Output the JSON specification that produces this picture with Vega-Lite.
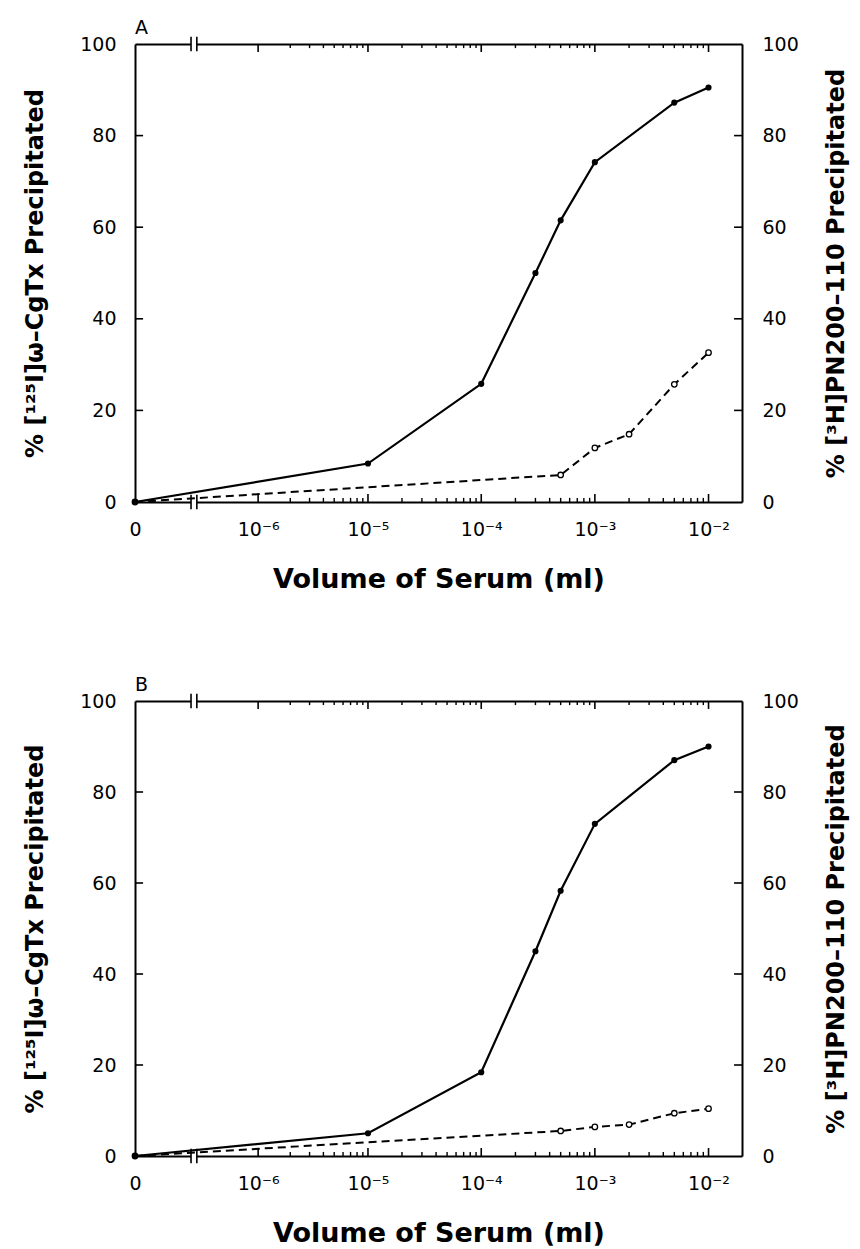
{
  "$schema": "https://vega.github.io/schema/vega-lite/v6.json",
  "background": "white",
  "padding": {"left": 23, "top": 19, "right": 8, "bottom": 4},
  "config": {
    "view": {"stroke": null},
    "title": {"font": "DejaVu Sans", "fontSize": 19, "fontWeight": "normal", "anchor": "start", "color": "black", "frame": "group"}
  },
  "datasets": {
    "A": [
      {"series": "CgTx", "volume": 0, "percent": 0},
      {"series": "CgTx", "volume": 0.00001, "percent": 8.4},
      {"series": "CgTx", "volume": 0.0001, "percent": 25.8},
      {"series": "CgTx", "volume": 0.0003, "percent": 50},
      {"series": "CgTx", "volume": 0.0005, "percent": 61.5},
      {"series": "CgTx", "volume": 0.001, "percent": 74.2},
      {"series": "CgTx", "volume": 0.005, "percent": 87.2},
      {"series": "CgTx", "volume": 0.01, "percent": 90.5},
      {"series": "PN200", "volume": 0, "percent": 0},
      {"series": "PN200", "volume": 0.0005, "percent": 5.9},
      {"series": "PN200", "volume": 0.001, "percent": 11.8},
      {"series": "PN200", "volume": 0.002, "percent": 14.8},
      {"series": "PN200", "volume": 0.005, "percent": 25.7},
      {"series": "PN200", "volume": 0.01, "percent": 32.6}
    ],
    "B": [
      {"series": "CgTx", "volume": 0, "percent": 0},
      {"series": "CgTx", "volume": 0.00001, "percent": 5},
      {"series": "CgTx", "volume": 0.0001, "percent": 18.4},
      {"series": "CgTx", "volume": 0.0003, "percent": 45},
      {"series": "CgTx", "volume": 0.0005, "percent": 58.3},
      {"series": "CgTx", "volume": 0.001, "percent": 73},
      {"series": "CgTx", "volume": 0.005, "percent": 87},
      {"series": "CgTx", "volume": 0.01, "percent": 90},
      {"series": "PN200", "volume": 0, "percent": 0},
      {"series": "PN200", "volume": 0.0005, "percent": 5.5},
      {"series": "PN200", "volume": 0.001, "percent": 6.4},
      {"series": "PN200", "volume": 0.002, "percent": 6.9},
      {"series": "PN200", "volume": 0.005, "percent": 9.4},
      {"series": "PN200", "volume": 0.01, "percent": 10.4}
    ],
    "xticks": [
      {"v": 0.000001, "kind": "major"}, {"v": 0.00001, "kind": "major"}, {"v": 0.0001, "kind": "major"}, {"v": 0.001, "kind": "major"}, {"v": 0.01, "kind": "major"},
      {"v": 0.000002, "kind": "minor"}, {"v": 0.000003, "kind": "minor"}, {"v": 0.000004, "kind": "minor"}, {"v": 0.000005, "kind": "minor"}, {"v": 0.000006, "kind": "minor"}, {"v": 0.000007, "kind": "minor"}, {"v": 0.000008, "kind": "minor"}, {"v": 0.000009, "kind": "minor"},
      {"v": 0.00002, "kind": "minor"}, {"v": 0.00003, "kind": "minor"}, {"v": 0.00004, "kind": "minor"}, {"v": 0.00005, "kind": "minor"}, {"v": 0.00006, "kind": "minor"}, {"v": 0.00007, "kind": "minor"}, {"v": 0.00008, "kind": "minor"}, {"v": 0.00009, "kind": "minor"},
      {"v": 0.0002, "kind": "minor"}, {"v": 0.0003, "kind": "minor"}, {"v": 0.0004, "kind": "minor"}, {"v": 0.0005, "kind": "minor"}, {"v": 0.0006, "kind": "minor"}, {"v": 0.0007, "kind": "minor"}, {"v": 0.0008, "kind": "minor"}, {"v": 0.0009, "kind": "minor"},
      {"v": 0.002, "kind": "minor"}, {"v": 0.003, "kind": "minor"}, {"v": 0.004, "kind": "minor"}, {"v": 0.005, "kind": "minor"}, {"v": 0.006, "kind": "minor"}, {"v": 0.007, "kind": "minor"}, {"v": 0.008, "kind": "minor"}, {"v": 0.009, "kind": "minor"}
    ],
    "yticks": [{"v": 20}, {"v": 40}, {"v": 60}, {"v": 80}]
  },
  "spacing": 84,
  "vconcat": [
    {
      "title": {"text": "A", "offset": -3},
      "width": 607,
      "height": 458,
      "data": {"name": "A"},
      "resolve": {"axis": {"x": "independent", "y": "independent"}},
      "layer": [
        {"data": {"values": [{}]}, "mark": {"type": "rect", "fill": "white"},
         "encoding": {"x": {"datum": 1.9e-7, "type": "quantitative", "scale": {"type": "symlog", "constant": 9e-8, "domain": [0, 0.0197], "nice": false, "zero": false}, "axis": null}, "x2": {"datum": 2.25e-7},
                      "y": {"datum": -0.6, "type": "quantitative", "scale": {"domain": [0, 100], "nice": false}, "axis": null}, "y2": {"datum": 0.6}}},
        {"data": {"values": [{}]}, "mark": {"type": "rect", "fill": "white"},
         "encoding": {"x": {"datum": 1.9e-7, "type": "quantitative", "axis": null}, "x2": {"datum": 2.25e-7},
                      "y": {"datum": 99.4, "type": "quantitative", "axis": null}, "y2": {"datum": 100.6}}},
        {"data": {"values": [{}]}, "mark": {"type": "rule", "color": "black", "strokeWidth": 1.6},
         "encoding": {"x": {"datum": 1.9e-7, "type": "quantitative", "axis": null}, "y": {"datum": -1.6, "type": "quantitative", "axis": null}, "y2": {"datum": 1.6}}},
        {"data": {"values": [{}]}, "mark": {"type": "rule", "color": "black", "strokeWidth": 1.6},
         "encoding": {"x": {"datum": 2.25e-7, "type": "quantitative", "axis": null}, "y": {"datum": -1.6, "type": "quantitative", "axis": null}, "y2": {"datum": 1.6}}},
        {"data": {"values": [{}]}, "mark": {"type": "rule", "color": "black", "strokeWidth": 1.6},
         "encoding": {"x": {"datum": 1.9e-7, "type": "quantitative", "axis": null}, "y": {"datum": 98.4, "type": "quantitative", "axis": null}, "y2": {"datum": 101.6}}},
        {"data": {"values": [{}]}, "mark": {"type": "rule", "color": "black", "strokeWidth": 1.6},
         "encoding": {"x": {"datum": 2.25e-7, "type": "quantitative", "axis": null}, "y": {"datum": 98.4, "type": "quantitative", "axis": null}, "y2": {"datum": 101.6}}},
        {"data": {"name": "xticks"}, "transform": [{"filter": "datum.kind == 'major'"}],
         "mark": {"type": "rule", "color": "black", "strokeWidth": 1.6},
         "encoding": {"x": {"field": "v", "type": "quantitative", "axis": null}, "y": {"datum": 0, "type": "quantitative", "axis": null}, "y2": {"datum": 1.75}}},
        {"data": {"name": "xticks"}, "transform": [{"filter": "datum.kind == 'minor'"}],
         "mark": {"type": "rule", "color": "black", "strokeWidth": 1.4},
         "encoding": {"x": {"field": "v", "type": "quantitative", "axis": null}, "y": {"datum": 0, "type": "quantitative", "axis": null}, "y2": {"datum": 0.9}}},
        {"data": {"name": "xticks"}, "transform": [{"filter": "datum.kind == 'major'"}],
         "mark": {"type": "rule", "color": "black", "strokeWidth": 1.6},
         "encoding": {"x": {"field": "v", "type": "quantitative", "axis": null}, "y": {"datum": 100, "type": "quantitative", "axis": null}, "y2": {"datum": 98.25}}},
        {"data": {"name": "xticks"}, "transform": [{"filter": "datum.kind == 'minor'"}],
         "mark": {"type": "rule", "color": "black", "strokeWidth": 1.4},
         "encoding": {"x": {"field": "v", "type": "quantitative", "axis": null}, "y": {"datum": 100, "type": "quantitative", "axis": null}, "y2": {"datum": 99.1}}},
        {"data": {"name": "yticks"},
         "mark": {"type": "rule", "color": "black", "strokeWidth": 1.6},
         "encoding": {"y": {"field": "v", "type": "quantitative", "axis": null}, "x": {"datum": 0, "type": "quantitative", "axis": null}, "x2": {"datum": 1.6e-8}}},
        {"data": {"name": "yticks"},
         "mark": {"type": "rule", "color": "black", "strokeWidth": 1.6},
         "encoding": {"y": {"field": "v", "type": "quantitative", "axis": null}, "x": {"datum": 0.0197, "type": "quantitative", "axis": null}, "x2": {"datum": 0.01677}}},
        {"transform": [{"filter": "datum.series == 'CgTx'"}],
         "mark": {"type": "line", "color": "black", "strokeWidth": 2.2},
         "encoding": {
           "x": {"field": "volume", "type": "quantitative", "scale": {"type": "symlog", "constant": 9e-8, "domain": [0, 0.0197], "nice": false, "zero": false},
                 "axis": {"orient": "bottom", "values": [0, 0.000001, 0.00001, 0.0001, 0.001, 0.01], "grid": false, "ticks": false, "domain": true, "domainColor": "black", "domainWidth": 2, "labelFont": "DejaVu Sans", "labelFontSize": 19, "labelColor": "black", "labelFlush": false, "labelOverlap": false, "labelPadding": 18, "labelExpr": "datum.value == 0 ? '0' : datum.value < 5e-6 ? '10⁻⁶' : datum.value < 5e-5 ? '10⁻⁵' : datum.value < 5e-4 ? '10⁻⁴' : datum.value < 5e-3 ? '10⁻³' : '10⁻²'", "title": "Volume of Serum (ml)", "titleFont": "DejaVu Sans", "titleFontSize": 27, "titleFontWeight": "bold", "titleColor": "black", "titlePadding": 27}},
           "y": {"field": "percent", "type": "quantitative", "scale": {"domain": [0, 100], "nice": false},
                 "axis": {"orient": "left", "values": [0, 20, 40, 60, 80, 100], "grid": false, "ticks": false, "domain": true, "domainColor": "black", "domainWidth": 2, "labelFont": "DejaVu Sans", "labelFontSize": 19, "labelColor": "black", "labelFlush": false, "labelOverlap": false, "labelPadding": 19, "title": "% [¹²⁵I]ω–CgTx Precipitated", "titleFont": "DejaVu Sans", "titleFontSize": 24, "titleFontWeight": "bold", "titleColor": "black", "titlePadding": 32}}
         }},
        {"transform": [{"filter": "datum.series == 'PN200'"}],
         "mark": {"type": "line", "color": "black", "strokeWidth": 2, "strokeDash": [8, 5]},
         "encoding": {
           "x": {"field": "volume", "type": "quantitative",
                 "axis": {"orient": "top", "values": [0, 0.01], "grid": false, "ticks": false, "labels": false, "domain": true, "domainColor": "black", "domainWidth": 2, "title": null}},
           "y": {"field": "percent", "type": "quantitative",
                 "axis": {"orient": "right", "values": [0, 20, 40, 60, 80, 100], "grid": false, "ticks": false, "domain": true, "domainColor": "black", "domainWidth": 2, "labelFont": "DejaVu Sans", "labelFontSize": 19, "labelColor": "black", "labelFlush": false, "labelOverlap": false, "labelPadding": 20, "title": "% [³H]PN200–110 Precipitated", "titleFont": "DejaVu Sans", "titleFontSize": 24, "titleFontWeight": "bold", "titleColor": "black", "titlePadding": 26, "titleAngle": 270, "titleBaseline": "top"}}
         }},
        {"transform": [{"filter": "datum.series == 'PN200'"}],
         "mark": {"type": "point", "shape": "circle", "filled": false, "fill": "white", "fillOpacity": 1, "stroke": "black", "strokeWidth": 1.3, "size": 30, "opacity": 1},
         "encoding": {
           "x": {"field": "volume", "type": "quantitative", "axis": null},
           "y": {"field": "percent", "type": "quantitative", "axis": null}
         }},
        {"transform": [{"filter": "datum.series == 'CgTx'"}],
         "mark": {"type": "circle", "color": "black", "size": 38, "opacity": 1},
         "encoding": {
           "x": {"field": "volume", "type": "quantitative", "axis": null},
           "y": {"field": "percent", "type": "quantitative", "axis": null}
         }}
      ]
    },
    {
      "title": {"text": "B", "offset": -3},
      "width": 607,
      "height": 455,
      "data": {"name": "B"},
      "resolve": {"axis": {"x": "independent", "y": "independent"}},
      "layer": [
        {"data": {"values": [{}]}, "mark": {"type": "rect", "fill": "white"},
         "encoding": {"x": {"datum": 1.9e-7, "type": "quantitative", "scale": {"type": "symlog", "constant": 9e-8, "domain": [0, 0.0197], "nice": false, "zero": false}, "axis": null}, "x2": {"datum": 2.25e-7},
                      "y": {"datum": -0.6, "type": "quantitative", "scale": {"domain": [0, 100], "nice": false}, "axis": null}, "y2": {"datum": 0.6}}},
        {"data": {"values": [{}]}, "mark": {"type": "rect", "fill": "white"},
         "encoding": {"x": {"datum": 1.9e-7, "type": "quantitative", "axis": null}, "x2": {"datum": 2.25e-7},
                      "y": {"datum": 99.4, "type": "quantitative", "axis": null}, "y2": {"datum": 100.6}}},
        {"data": {"values": [{}]}, "mark": {"type": "rule", "color": "black", "strokeWidth": 1.6},
         "encoding": {"x": {"datum": 1.9e-7, "type": "quantitative", "axis": null}, "y": {"datum": -1.6, "type": "quantitative", "axis": null}, "y2": {"datum": 1.6}}},
        {"data": {"values": [{}]}, "mark": {"type": "rule", "color": "black", "strokeWidth": 1.6},
         "encoding": {"x": {"datum": 2.25e-7, "type": "quantitative", "axis": null}, "y": {"datum": -1.6, "type": "quantitative", "axis": null}, "y2": {"datum": 1.6}}},
        {"data": {"values": [{}]}, "mark": {"type": "rule", "color": "black", "strokeWidth": 1.6},
         "encoding": {"x": {"datum": 1.9e-7, "type": "quantitative", "axis": null}, "y": {"datum": 98.4, "type": "quantitative", "axis": null}, "y2": {"datum": 101.6}}},
        {"data": {"values": [{}]}, "mark": {"type": "rule", "color": "black", "strokeWidth": 1.6},
         "encoding": {"x": {"datum": 2.25e-7, "type": "quantitative", "axis": null}, "y": {"datum": 98.4, "type": "quantitative", "axis": null}, "y2": {"datum": 101.6}}},
        {"data": {"name": "xticks"}, "transform": [{"filter": "datum.kind == 'major'"}],
         "mark": {"type": "rule", "color": "black", "strokeWidth": 1.6},
         "encoding": {"x": {"field": "v", "type": "quantitative", "axis": null}, "y": {"datum": 0, "type": "quantitative", "axis": null}, "y2": {"datum": 1.75}}},
        {"data": {"name": "xticks"}, "transform": [{"filter": "datum.kind == 'minor'"}],
         "mark": {"type": "rule", "color": "black", "strokeWidth": 1.4},
         "encoding": {"x": {"field": "v", "type": "quantitative", "axis": null}, "y": {"datum": 0, "type": "quantitative", "axis": null}, "y2": {"datum": 0.9}}},
        {"data": {"name": "xticks"}, "transform": [{"filter": "datum.kind == 'major'"}],
         "mark": {"type": "rule", "color": "black", "strokeWidth": 1.6},
         "encoding": {"x": {"field": "v", "type": "quantitative", "axis": null}, "y": {"datum": 100, "type": "quantitative", "axis": null}, "y2": {"datum": 98.25}}},
        {"data": {"name": "xticks"}, "transform": [{"filter": "datum.kind == 'minor'"}],
         "mark": {"type": "rule", "color": "black", "strokeWidth": 1.4},
         "encoding": {"x": {"field": "v", "type": "quantitative", "axis": null}, "y": {"datum": 100, "type": "quantitative", "axis": null}, "y2": {"datum": 99.1}}},
        {"data": {"name": "yticks"},
         "mark": {"type": "rule", "color": "black", "strokeWidth": 1.6},
         "encoding": {"y": {"field": "v", "type": "quantitative", "axis": null}, "x": {"datum": 0, "type": "quantitative", "axis": null}, "x2": {"datum": 1.6e-8}}},
        {"data": {"name": "yticks"},
         "mark": {"type": "rule", "color": "black", "strokeWidth": 1.6},
         "encoding": {"y": {"field": "v", "type": "quantitative", "axis": null}, "x": {"datum": 0.0197, "type": "quantitative", "axis": null}, "x2": {"datum": 0.01677}}},
        {"transform": [{"filter": "datum.series == 'CgTx'"}],
         "mark": {"type": "line", "color": "black", "strokeWidth": 2.2},
         "encoding": {
           "x": {"field": "volume", "type": "quantitative", "scale": {"type": "symlog", "constant": 9e-8, "domain": [0, 0.0197], "nice": false, "zero": false},
                 "axis": {"orient": "bottom", "values": [0, 0.000001, 0.00001, 0.0001, 0.001, 0.01], "grid": false, "ticks": false, "domain": true, "domainColor": "black", "domainWidth": 2, "labelFont": "DejaVu Sans", "labelFontSize": 19, "labelColor": "black", "labelFlush": false, "labelOverlap": false, "labelPadding": 18, "labelExpr": "datum.value == 0 ? '0' : datum.value < 5e-6 ? '10⁻⁶' : datum.value < 5e-5 ? '10⁻⁵' : datum.value < 5e-4 ? '10⁻⁴' : datum.value < 5e-3 ? '10⁻³' : '10⁻²'", "title": "Volume of Serum (ml)", "titleFont": "DejaVu Sans", "titleFontSize": 27, "titleFontWeight": "bold", "titleColor": "black", "titlePadding": 27}},
           "y": {"field": "percent", "type": "quantitative", "scale": {"domain": [0, 100], "nice": false},
                 "axis": {"orient": "left", "values": [0, 20, 40, 60, 80, 100], "grid": false, "ticks": false, "domain": true, "domainColor": "black", "domainWidth": 2, "labelFont": "DejaVu Sans", "labelFontSize": 19, "labelColor": "black", "labelFlush": false, "labelOverlap": false, "labelPadding": 19, "title": "% [¹²⁵I]ω–CgTx Precipitated", "titleFont": "DejaVu Sans", "titleFontSize": 24, "titleFontWeight": "bold", "titleColor": "black", "titlePadding": 32}}
         }},
        {"transform": [{"filter": "datum.series == 'PN200'"}],
         "mark": {"type": "line", "color": "black", "strokeWidth": 2, "strokeDash": [8, 5]},
         "encoding": {
           "x": {"field": "volume", "type": "quantitative",
                 "axis": {"orient": "top", "values": [0, 0.01], "grid": false, "ticks": false, "labels": false, "domain": true, "domainColor": "black", "domainWidth": 2, "title": null}},
           "y": {"field": "percent", "type": "quantitative",
                 "axis": {"orient": "right", "values": [0, 20, 40, 60, 80, 100], "grid": false, "ticks": false, "domain": true, "domainColor": "black", "domainWidth": 2, "labelFont": "DejaVu Sans", "labelFontSize": 19, "labelColor": "black", "labelFlush": false, "labelOverlap": false, "labelPadding": 20, "title": "% [³H]PN200–110 Precipitated", "titleFont": "DejaVu Sans", "titleFontSize": 24, "titleFontWeight": "bold", "titleColor": "black", "titlePadding": 26, "titleAngle": 270, "titleBaseline": "top"}}
         }},
        {"transform": [{"filter": "datum.series == 'PN200'"}],
         "mark": {"type": "point", "shape": "circle", "filled": false, "fill": "white", "fillOpacity": 1, "stroke": "black", "strokeWidth": 1.3, "size": 30, "opacity": 1},
         "encoding": {
           "x": {"field": "volume", "type": "quantitative", "axis": null},
           "y": {"field": "percent", "type": "quantitative", "axis": null}
         }},
        {"transform": [{"filter": "datum.series == 'CgTx'"}],
         "mark": {"type": "circle", "color": "black", "size": 38, "opacity": 1},
         "encoding": {
           "x": {"field": "volume", "type": "quantitative", "axis": null},
           "y": {"field": "percent", "type": "quantitative", "axis": null}
         }}
      ]
    }
  ]
}
